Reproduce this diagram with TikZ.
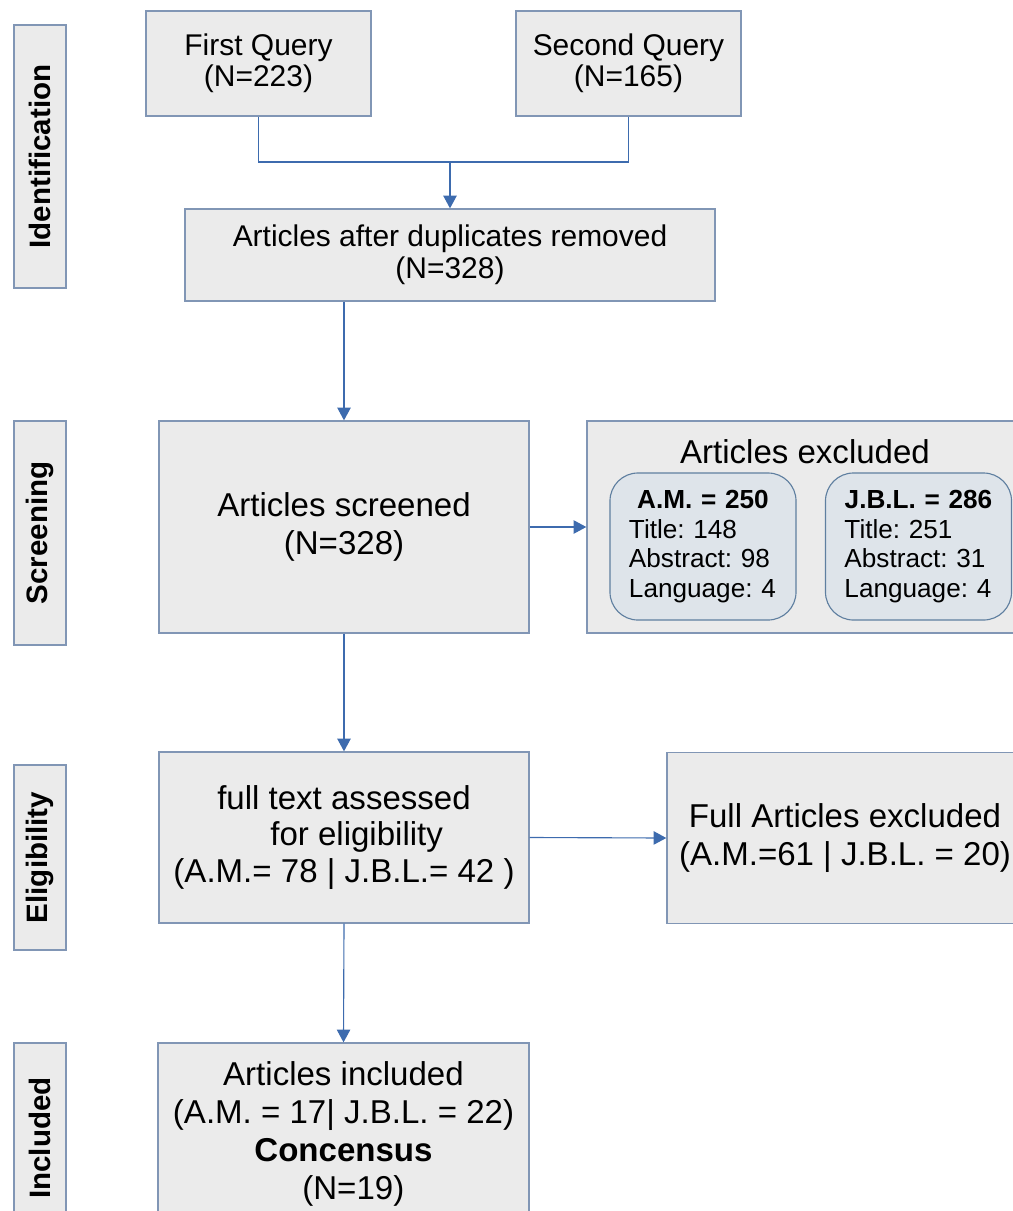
\documentclass[tikz,border=0pt]{standalone}
\usepackage{fontspec}
\setmainfont{Liberation Sans}
\usetikzlibrary{arrows.meta}

\definecolor{boxfill}{HTML}{EBEBEB}
\definecolor{boxline}{HTML}{8196B5}
\definecolor{subfill}{HTML}{DEE4EA}
\definecolor{subline}{HTML}{5F7FA0}
\definecolor{flowblue}{HTML}{3D6BAE}

\begin{document}
\begin{tikzpicture}[x=0.025cm,y=-0.025cm]
        \tikzstyle{stage}=[rectangle,draw=boxline,fill=boxfill,line width=0.9pt,inner sep=0pt,rotate=90,
                           font=\bfseries\fontsize{21}{24}\selectfont]
        \tikzstyle{item}=[rectangle,draw=boxline,fill=boxfill,line width=0.9pt,align=center,inner sep=0pt]
        \tikzstyle{count}=[rectangle,rounded corners=0.7cm,draw=subline,fill=subfill,line width=0.8pt,
                           minimum width=4.65cm,minimum height=3.675cm,align=left,text width=3.7cm,
                           font=\frenchspacing\fontsize{18.6}{21}\selectfont]
        \tikzstyle{link}=[flowblue,line width=0.8pt]
        \tikzstyle{linkarrow}=[link,-{Triangle[length=9pt,width=9.5pt]}]
        \path [use as bounding box,clip] (0,0) rectangle (1013,1211);
        % stage labels
        \node [stage,minimum width=6.575cm,minimum height=1.3cm] (idlab) at (40,156.5) {Identification};
        \node [stage,minimum width=5.6cm,minimum height=1.3cm] (scrlab) at (40,533) {Screening};
        \node [stage,minimum width=4.625cm,minimum height=1.3cm] (elilab) at (40,857.5) {Eligibility};
        \node [stage,minimum width=4.75cm,minimum height=1.3cm] (inclab) at (40,1138) {Included};
        % identification
        \node [item,minimum width=5.625cm,minimum height=2.625cm,font=\fontsize{21.3}{22}\selectfont]
            (q1) at (258.5,63.5) {First Query\\(N=223)};
        \node [item,minimum width=5.625cm,minimum height=2.625cm,font=\fontsize{21.3}{22}\selectfont]
            (q2) at (628.5,63.5) {Second Query\\(N=165)};
        \node [item,minimum width=13.25cm,minimum height=2.3cm,font=\fontsize{21.3}{23}\selectfont]
            (dup) at (450,255) {Articles after duplicates removed\\(N=328)};
        \coordinate (qjoin) at (450,162);
        \draw [link] (q1.south) |- (qjoin) -| (q2.south);
        \draw [linkarrow] (qjoin) -- (dup.north);
        % screening
        \node [item,minimum width=9.25cm,minimum height=5.3cm,font=\fontsize{23.5}{27}\selectfont]
            (scr) at (344,527) {Articles screened\\(N=328)};
        \node [item,minimum width=10.9cm,minimum height=5.3cm] (exc) at (805,527) {};
        \node [font=\fontsize{23.5}{27}\selectfont] (exct) at (805,452) {Articles excluded};
        \node [count] (am) at (703,546.5) {\makebox[\linewidth]{\bfseries A.M. = 250}\\Title: 148\\Abstract: 98\\Language: 4};
        \node [count] (jbl) at (918.5,546.5) {\makebox[\linewidth]{\bfseries J.B.L. = 286}\\Title: 251\\Abstract: 31\\Language: 4};
        \draw [linkarrow] (scr.north |- dup.south) -- (scr.north);
        \draw [linkarrow] (scr.east) -- (exc.west);
        % eligibility
        \node [item,minimum width=9.25cm,minimum height=4.275cm,font=\fontsize{23.5}{26}\selectfont]
            (full) at (344,837.5) {full text assessed\\\hspace*{18pt}for eligibility\\(A.M.= 78 | J.B.L.= 42 )};
        \node [item,minimum width=8.9cm,minimum height=4.275cm,font=\fontsize{23.5}{27}\selectfont]
            (fexc) at (845,838) {Full Articles excluded\\(A.M.=61 | J.B.L. = 20)};
        \draw [linkarrow] (scr.south) -- (full.north);
        \draw [linkarrow] (full.east) -- (fexc.west);
        % included
        \node [item,minimum width=9.275cm,minimum height=4.55cm,font=\fontsize{23.5}{27}\selectfont]
            (inc) at (343.5,1134) {Articles included\\(A.M. = 17| J.B.L. = 22)\\\textbf{Concensus}\\\hspace*{14pt}(N=19)};
        \draw [linkarrow] (full.south) -- (inc.north);
\end{tikzpicture}
\end{document}
